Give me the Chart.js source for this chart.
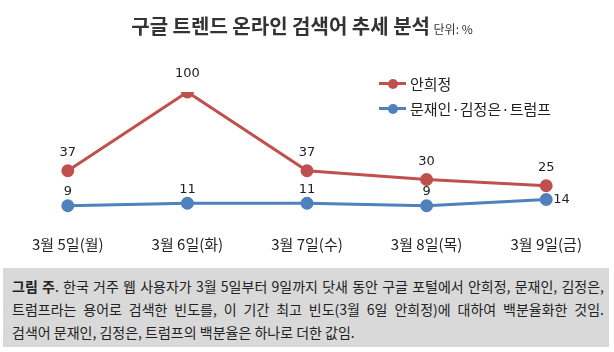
<!DOCTYPE html>
<html><head><meta charset="utf-8">
<script src="https://cdn.jsdelivr.net/npm/chart.js@4"></script>
<style>
body{margin:0;width:614px;height:352px;position:relative;background:#fff;overflow:hidden;font-family:"Noto Sans CJK KR",sans-serif;color:#222}
#c{position:absolute;left:0;top:0}
#title{position:absolute;top:11px;left:0;width:604px;text-align:center;white-space:nowrap}
#title b{font-size:20px;font-weight:bold;color:#333}
#title span{font-size:12px;color:#333}
#legend{position:absolute;left:379px;top:71px;font-size:15px;line-height:25px}
.li{display:flex;align-items:center;height:25px}
.sw{position:relative;width:27px;height:10px;margin-right:4px}
.sw .ln{position:absolute;left:0;right:0;top:3.5px;height:3px}
.sw .dt{position:absolute;left:8.5px;top:0;width:10px;height:10px;border-radius:50%}
#note{position:absolute;left:3px;top:268px;width:606px;height:79px;background:#d9d9d9;box-sizing:border-box;padding:7px 0 0 9px;font-size:14px;line-height:23px;color:#222}
#note div{width:592px;white-space:nowrap}
#note .j{text-align:justify;text-align-last:justify;white-space:normal}
</style></head><body>
<canvas id="c" width="614" height="352"></canvas>
<div id="title"><b>구글 트렌드 온라인 검색어 추세 분석</b> <span>단위: %</span></div>
<div id="legend"></div>
<div id="note"><div class="j"><b>그림 주</b>. 한국 거주 웹 사용자가 3월 5일부터 9일까지 닷새 동안 구글 포털에서 안희정, 문재인, 김정은,</div><div class="j">트럼프라는 용어로 검색한 빈도를, 이 기간 최고 빈도(3월 6일 안희정)에 대하여 백분율화한 것임.</div><div>검색어 문재인, 김정은, 트럼프의 백분율은 하나로 더한 값임.</div></div>
<script>
const categories = ["3월 5일(월)", "3월 6일(화)", "3월 7일(수)", "3월 8일(목)", "3월 9일(금)"];
const seriesNames = ["안희정", "문재인·김정은·트럼프"];
const ahnValues = [37, 100, 37, 30, 25];
const othersValues = [9, 11, 11, 9, 14];
const colors = ["#c0504d", "#4f81bd"];

const leg = document.getElementById('legend');
seriesNames.forEach((n, i) => {
  const d = document.createElement('div'); d.className = 'li';
  d.innerHTML = '<div class="sw"><div class="ln" style="background:' + colors[i] + '"></div><div class="dt" style="background:' + colors[i] + '"></div></div><span>' + n + '</span>';
  leg.appendChild(d);
});

const labelPlugin = {
  id: 'vals',
  afterDatasetsDraw(chart) {
    const ctx = chart.ctx;
    ctx.save();
    ctx.font = '13px "DejaVu Sans"';
    ctx.fillStyle = '#222';
    chart.data.datasets.forEach((ds, i) => {
      const meta = chart.getDatasetMeta(i);
      meta.data.forEach((pt, j) => {
        const last = (i === 1 && j === ds.data.length - 1);
        if (last) {
          ctx.textAlign = 'left'; ctx.textBaseline = 'middle';
          ctx.fillText(ds.data[j], pt.x + 7, pt.y);
        } else {
          ctx.textAlign = 'center'; ctx.textBaseline = 'middle';
          ctx.fillText(ds.data[j], pt.x, pt.y - (i === 0 ? 18 : 14));
        }
      });
    });
    ctx.restore();
  }
};

new Chart(document.getElementById('c'), {
  type: 'line',
  data: {
    labels: categories,
    datasets: [
      {label: seriesNames[0], data: ahnValues, borderColor: colors[0], backgroundColor: colors[0], borderWidth: 3, pointRadius: 5, pointBackgroundColor: colors[0], pointBorderColor: colors[0], tension: 0},
      {label: seriesNames[1], data: othersValues, borderColor: colors[1], backgroundColor: colors[1], borderWidth: 3, pointRadius: 5, pointBackgroundColor: colors[1], pointBorderColor: colors[1], tension: 0}
    ]
  },
  options: {
    responsive: false,
    animation: false,
    layout: {padding: {top: 92, left: 8, right: 6, bottom: 81}},
    plugins: {legend: {display: false}, tooltip: {enabled: false}, title: {display: false}},
    scales: {
      y: {display: false, min: 0, max: 100},
      x: {offset: true, grid: {display: false, drawTicks: false}, border: {display: false},
          ticks: {padding: 18, color: '#222', font: {family: '"Noto Sans CJK KR"', size: 15}}}
    }
  },
  plugins: [labelPlugin]
});
</script>
</body></html>
